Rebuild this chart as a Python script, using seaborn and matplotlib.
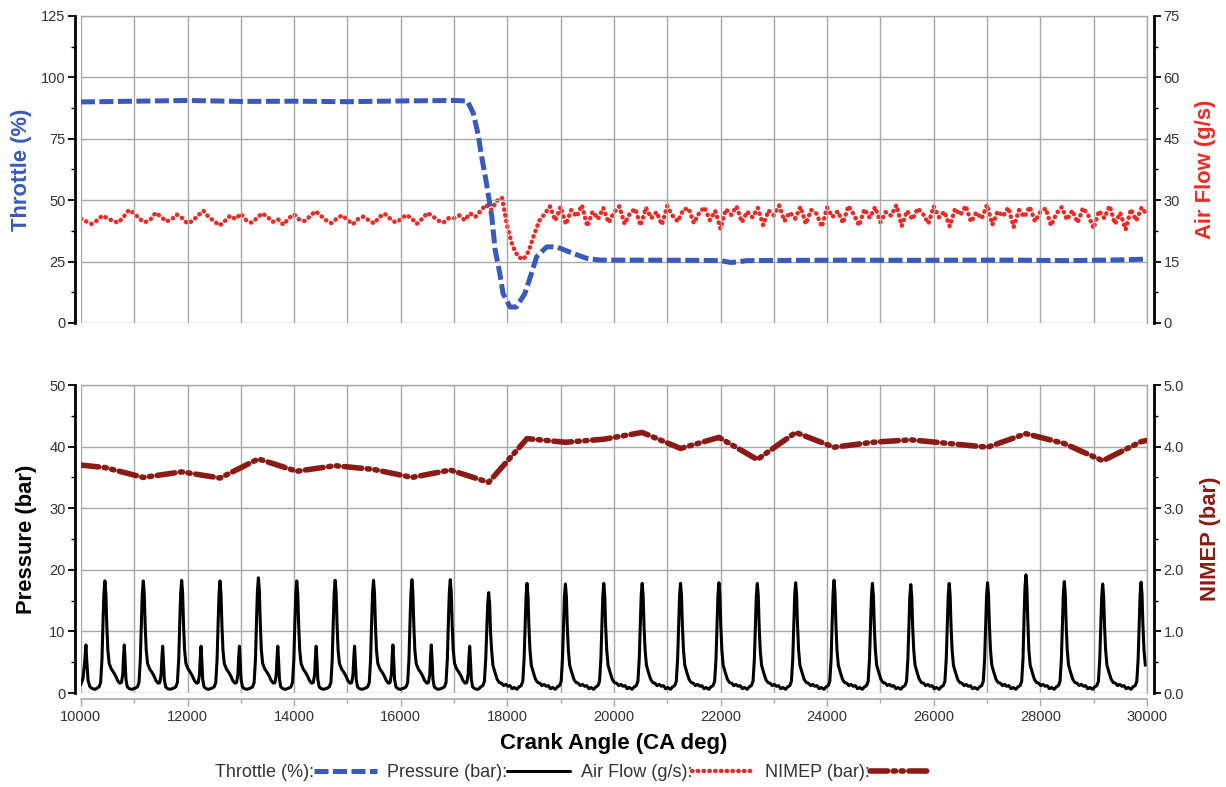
import numpy as np
import pandas as pd
import matplotlib
matplotlib.use("Agg")
import matplotlib.pyplot as plt
from matplotlib.lines import Line2D
from matplotlib.ticker import MultipleLocator, FormatStrFormatter
import seaborn as sns

# ---------------- data ----------------
# Throttle position (%) vs crank angle
throttle_ca = [10000, 11000, 12000, 13000, 14000, 15000, 16000, 17000, 17250,
               17360, 17450, 17520, 17600, 17660, 17710, 17770, 17860, 17920,
               18050, 18170, 18330, 18450, 18550, 18740, 18920, 19240, 19490,
               19740, 20500, 21500, 22000, 22200, 22500, 23500, 24500, 25500,
               26500, 27500, 28500, 29500, 30000]
throttle_pct = [90.0, 90.3, 90.6, 90.2, 90.3, 90.1, 90.4, 90.6, 90.4,
                85.5, 77.0, 67.5, 58.0, 50.0, 43.0, 30.0, 20.0, 12.0,
                6.5, 6.5, 12.0, 20.0, 27.0, 31.0, 31.0, 28.3, 26.3,
                25.6, 25.6, 25.5, 25.4, 24.6, 25.4, 25.5, 25.6, 25.5,
                25.6, 25.6, 25.4, 25.7, 26.0]

# Air flow (g/s), sampled every 100 CA deg from 10000 to 30000
airflow_start, airflow_step = 10000, 100
airflow_gs = [
    25.5, 24.8, 24.2, 25.0, 26.2, 25.6, 24.9, 24.5, 25.9, 27.6,
    26.8, 25.4, 24.6, 25.2, 26.9, 26.0, 24.8, 25.3, 26.5, 25.6,
    24.3, 25.0, 26.3, 27.4, 25.8, 24.9, 23.8, 24.9, 26.2, 25.4,
    26.7, 25.1, 24.5, 25.6, 26.8, 25.9, 24.7, 25.3, 24.0, 25.6,
    26.5, 25.2, 24.9, 26.1, 27.3, 26.2, 25.1, 24.4, 25.5, 26.3,
    25.2, 24.1, 25.4, 26.0, 25.1, 24.3, 25.9, 26.7, 25.5, 24.6,
    25.3, 26.4, 25.6, 24.2, 25.4, 26.9, 26.1, 25.0, 24.5, 25.6,
    25.6, 26.3, 25.1, 26.8, 25.9, 27.4, 28.9, 27.6, 29.8, 30.6,
    23.5, 18.8, 16.2, 15.5, 17.5, 21.5, 25.0, 26.6, 28.5, 25.0,
    28.4, 24.1, 27.6, 26.0, 28.8, 23.6, 27.2, 25.4, 28.1, 24.5,
    27.0, 28.5, 24.2, 26.8, 27.9, 23.8, 28.2, 25.6, 27.1, 24.0,
    28.6, 26.2, 24.8, 27.7, 28.0, 24.4, 26.9, 28.3, 25.1, 27.4,
    23.0, 27.8, 26.4, 28.5, 24.6, 27.2, 25.8, 28.1, 23.9, 27.5,
    26.3, 28.7, 24.9, 27.0, 25.5, 28.4, 24.2, 27.6, 26.7, 23.5,
    28.2, 25.9, 27.3, 24.4, 28.6, 26.5, 23.8, 27.8, 25.7, 28.3,
    24.6, 27.1, 26.2, 28.8, 23.7, 27.4, 25.3, 28.0, 26.6, 24.3,
    28.5, 25.8, 27.2, 23.6, 27.9, 26.4, 28.6, 24.7, 27.0, 25.5,
    28.9, 24.0, 27.3, 26.1, 28.2, 23.4, 27.6, 25.9, 28.4, 24.8,
    27.1, 28.0, 23.8, 26.7, 28.3, 25.2, 27.5, 24.5, 28.1, 26.3,
    23.1, 27.4, 25.6, 28.6, 24.2, 26.9, 22.8, 27.8, 25.0, 28.2,
    26.5]

# Net indicated mean effective pressure per cycle (bar)
nimep_ca = [10000, 10450, 11170, 11890, 12610, 13330, 14050, 14770, 15490,
            16210, 16930, 17650, 18370, 19090, 19810, 20530, 21250, 21970,
            22690, 23410, 24130, 24850, 25570, 26290, 27010, 27730, 28450,
            29170, 29890, 30000]
nimep_bar = [3.70, 3.66, 3.50, 3.59, 3.49, 3.80, 3.60, 3.69, 3.63,
             3.50, 3.62, 3.42, 4.13, 4.07, 4.12, 4.23, 3.97, 4.15,
             3.79, 4.23, 3.99, 4.07, 4.11, 4.05, 3.99, 4.21, 4.05,
             3.77, 4.08, 4.10]

# Cylinder pressure: main compression peaks (CA deg, bar)
peak_ca = [10450, 11170, 11890, 12610, 13330, 14050, 14770, 15490, 16210,
           16930, 17650, 18370, 19090, 19810, 20530, 21250, 21970, 22690,
           23410, 24130, 24850, 25570, 26290, 27010, 27730, 28450, 29170,
           29890]
peak_bar = [18.2, 18.2, 18.3, 18.2, 18.7, 18.2, 18.3, 18.3, 18.4,
            18.4, 16.3, 17.8, 17.7, 17.8, 17.8, 17.8, 17.9, 17.8,
            17.9, 18.3, 17.8, 17.6, 17.8, 17.9, 19.2, 18.1, 17.7,
            18.0]
# secondary peaks while the throttle is wide open (CA deg, bar)
small_ca = [10094, 10814, 11534, 12254, 12974, 13694, 14414, 15134, 15854,
            16574, 17294]
small_bar = [7.8, 7.8, 7.6, 7.6, 7.6, 7.6, 7.6, 7.6, 7.8, 7.8, 7.6]

# cycle profile, throttle open: offset from main peak (CA deg), pressure (bar)
open_off = [-150, -110, -80, -55, -35, -18, 0, 18, 35, 55, 80, 120, 160, 200,
            240, 280, 310, 335, 350, 364, 378, 395, 420, 460, 500, 540]
open_bar = [0.8, 1.0, 1.7, 5.5, 11.5, 16.0, 18.0, 16.0, 11.0, 7.0, 4.8, 3.9,
            3.4, 2.8, 2.0, 1.6, 1.7, 3.0, 6.0, 7.8, 5.5, 2.2, 1.0, 0.7, 0.6, 0.7]
# cycle profile, throttle closed
closed_off = [-150, -110, -80, -55, -35, -18, 0, 18, 35, 55, 80, 120, 160, 200,
              240, 280, 320, 360, 400, 440, 480, 530]
closed_bar = [1.0, 1.2, 1.9, 5.5, 11.5, 16.0, 18.0, 16.0, 11.0, 7.0, 4.5, 3.3,
              2.2, 1.7, 1.6, 1.2, 1.4, 1.1, 1.2, 0.7, 0.9, 0.6]
# lead-in before the first main peak
lead_ca = [10000, 10040, 10070, 10094, 10110, 10135, 10170, 10220, 10270]
lead_bar = [1.4, 2.4, 5.0, 7.8, 5.2, 2.0, 1.0, 0.7, 0.6]

# ---------------- build pressure trace ----------------
px, py = list(lead_ca), list(lead_bar)
for pc, ph in zip(peak_ca, peak_bar):
    nxt = [k for k, s in enumerate(small_ca) if pc < s < pc + 400]
    offs, vals = (open_off, open_bar) if nxt else (closed_off, closed_bar)
    for o, v in zip(offs, vals):
        if -40 <= o <= 40:
            v = v * ph / 18.0
        elif nxt and 345 <= o <= 385:
            v = v * small_bar[nxt[0]] / 7.8
        px.append(pc + o)
        py.append(v)

pressure = pd.DataFrame({"ca": px, "bar": py})
pressure = pressure[pressure.ca <= 30000]

# ---------------- style ----------------
sns.set_theme(style="white")
plt.rcParams["font.family"] = ["Liberation Sans", "DejaVu Sans"]

BLUE = "#3a59bd"
RED = "#ee2a24"
DARKRED = "#8c1a14"
GRID = "#a8a8a8"
TICKC = "#333333"

fig = plt.figure(figsize=(12.26, 7.87), dpi=100)
left, width = 0.066, 0.8695
ax1 = fig.add_axes([left, 0.5896, width, 0.3901])
ax3 = fig.add_axes([left, 0.1194, width, 0.3914])
ax2 = ax1.twinx()
ax4 = ax3.twinx()

for ax in (ax1, ax3):
    ax.set_xlim(10000, 30000)
    ax.xaxis.set_major_locator(MultipleLocator(2000))
    ax.xaxis.set_minor_locator(MultipleLocator(1000))
    ax.grid(True, which="both", axis="x", color=GRID, lw=1)
    ax.grid(True, which="major", axis="y", color=GRID, lw=1)
    ax.set_axisbelow(True)
    for s in ("top", "right"):
        ax.spines[s].set_color(GRID)
        ax.spines[s].set_linewidth(1)
    ax.spines["left"].set_color("black")
    ax.spines["left"].set_linewidth(2)
    ax.spines["left"].set_position(("outward", 4))
    ax.tick_params(axis="y", which="major", length=5, width=1.3, color="black",
                   labelsize=10.5, labelcolor=TICKC, pad=2, left=True)
    ax.tick_params(axis="y", which="minor", length=3, width=1, color="black", left=True)

for ax in (ax2, ax4):
    for s in ("top", "left", "bottom"):
        ax.spines[s].set_visible(False)
    ax.spines["right"].set_color("black")
    ax.spines["right"].set_linewidth(2)
    ax.spines["right"].set_position(("outward", 5))
    ax.tick_params(axis="y", which="major", length=5, width=1.3, color="black",
                   labelsize=10.5, labelcolor=TICKC, pad=2, right=True)
    ax.tick_params(axis="y", which="minor", length=3, width=1, color="black", right=True)

# top panel x axis hidden
ax1.spines["bottom"].set_visible(False)
ax1.tick_params(axis="x", which="both", bottom=False, labelbottom=False)
# bottom panel x axis
ax3.spines["bottom"].set_color(GRID)
ax3.spines["bottom"].set_linewidth(1.2)
ax3.spines["bottom"].set_position(("outward", 4))
ax3.tick_params(axis="x", which="major", length=5, width=1, color=GRID,
                labelsize=10.5, labelcolor=TICKC, pad=3, bottom=True)
ax3.tick_params(axis="x", which="minor", length=3, width=1, color=GRID, bottom=True)

# scales
ax1.set_ylim(0, 125)
ax1.yaxis.set_major_locator(MultipleLocator(25))
ax1.yaxis.set_minor_locator(MultipleLocator(12.5))
ax2.set_ylim(0, 75)
ax2.yaxis.set_major_locator(MultipleLocator(15))
ax2.yaxis.set_minor_locator(MultipleLocator(7.5))
ax3.set_ylim(0, 50)
ax3.yaxis.set_major_locator(MultipleLocator(10))
ax3.yaxis.set_minor_locator(MultipleLocator(5))
ax4.set_ylim(0, 5)
ax4.yaxis.set_major_locator(MultipleLocator(1))
ax4.yaxis.set_minor_locator(MultipleLocator(0.5))
ax4.yaxis.set_major_formatter(FormatStrFormatter("%.1f"))

# ---------------- series ----------------
throttle = pd.DataFrame({"ca": throttle_ca, "pct": throttle_pct})
airflow = pd.DataFrame({"ca": airflow_start + airflow_step * np.arange(len(airflow_gs)),
                        "gs": airflow_gs})
nimep = pd.DataFrame({"ca": nimep_ca, "bar": nimep_bar})

thr_style = dict(color=BLUE, lw=3.6, linestyle=(0, (2.8, 0.9)))
air_style = dict(color=RED, lw=3.2, linestyle=(0, (0.1, 1.2)), dash_capstyle="round")
prs_style = dict(color="black", lw=2.2)
nim_style = dict(color=DARKRED, lw=4.0, linestyle=(0, (3.2, 1.0, 0.4, 1.0, 0.4, 1.0)),
                 dash_capstyle="round")

sns.lineplot(data=airflow, x="ca", y="gs", ax=ax2, sort=False, estimator=None,
             **air_style)
sns.lineplot(data=throttle, x="ca", y="pct", ax=ax1, sort=False,
             estimator=None, **thr_style)
sns.lineplot(data=pressure, x="ca", y="bar", ax=ax3, sort=False, estimator=None,
             **prs_style)
sns.lineplot(data=nimep, x="ca", y="bar", ax=ax4, sort=False, estimator=None,
             **nim_style)

# throttle drawn above the air-flow axis
ax1.set_zorder(ax2.get_zorder() + 1)
ax1.patch.set_visible(False)

for ax in (ax1, ax2, ax3, ax4):
    ax.set_xlabel("")
    ax.set_ylabel("")

lab = dict(fontsize=15.8, fontweight="bold")
ax1.set_ylabel("Throttle (%)", color=BLUE, **lab)
ax1.yaxis.set_label_coords(-0.046, 0.5)
ax2.set_ylabel("Air Flow (g/s)", color=RED, rotation=90, **lab)
ax2.yaxis.set_label_coords(1.045, 0.5)
ax3.set_ylabel("Pressure (bar)", color="black", **lab)
ax3.yaxis.set_label_coords(-0.041, 0.5)
ax4.set_ylabel("NIMEP (bar)", color=DARKRED, rotation=90, **lab)
ax4.yaxis.set_label_coords(1.050, 0.5)
ax3.set_xlabel("Crank Angle (CA deg)", color="black", fontsize=16, fontweight="bold")
ax3.xaxis.set_label_coords(0.5, -0.130)

# ---------------- legend ----------------
handles = [Line2D([], [], **thr_style), Line2D([], [], **prs_style),
           Line2D([], [], **air_style), Line2D([], [], **nim_style)]
labels = ["Throttle (%):", "Pressure (bar):", "Air Flow (g/s):", "NIMEP (bar):"]
fig.legend(handles, labels, loc="center", bbox_to_anchor=(0.468, 0.018), ncol=4,
           frameon=False, markerfirst=False, fontsize=13, handlelength=3.45,
           handletextpad=0.0, columnspacing=0.6, labelcolor=TICKC)

fig.savefig("out.png", dpi=100)
